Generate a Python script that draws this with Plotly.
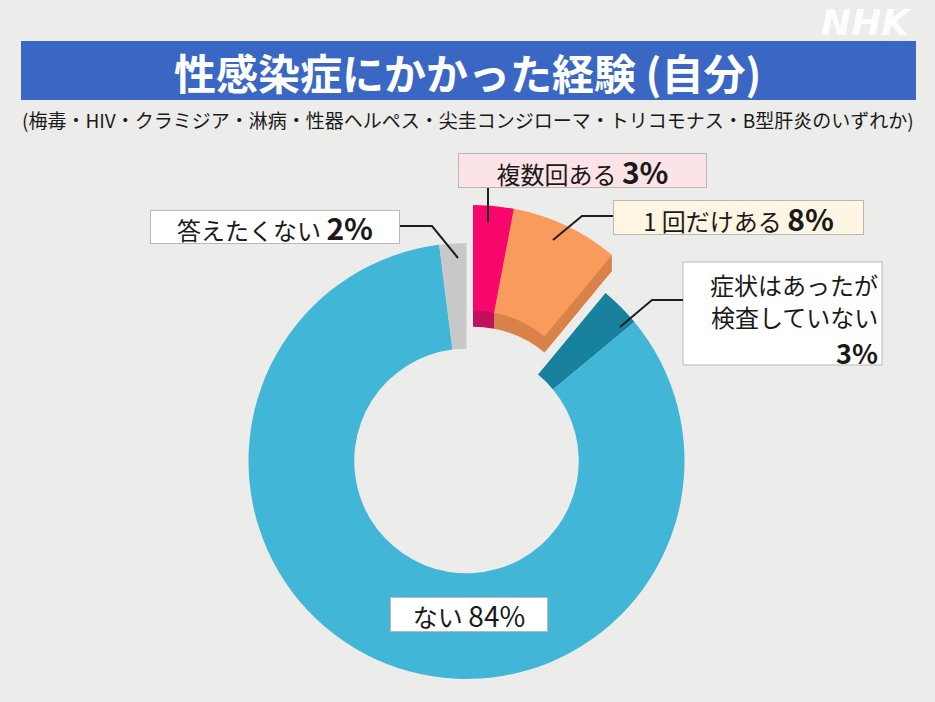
import plotly.graph_objects as go

W, H = 935, 702

# ---- data ----
labels = ["複数回ある", "1 回だけある", "症状はあったが検査していない", "ない", "答えたくない"]
values = [3, 8, 3, 84, 2]
colors = ["#F7066B", "#F89B5C", "#18819E", "#42B6D7", "#C8C8C8"]
depth_colors = ["#C2125C", "#D9834B", "#18819E", "#42B6D7", "#C8C8C8"]
raised = [True, True, False, False, False]

title_text = "性感染症にかかった経験 (自分)"
subtitle_text = "(梅毒・HIV・クラミジア・淋病・性器ヘルペス・尖圭コンジローマ・トリコモナス・B型肝炎のいずれか)"

# ---- geometry (pixels) ----
CX, CY, R = 466.5, 461.0, 218.0
HOLE = 0.515
LIFT_DX, LIFT_DY = 6.5, -38.0
DEPTH = 16.0
N_DEPTH = 24
FONT = "Noto Sans CJK JP"
TRANSPARENT = "rgba(0,0,0,0)"
BORDER = "#B8B8B8"


def dom(dx=0.0, dy=0.0):
    x0 = (CX - R + dx) / W
    x1 = (CX + R + dx) / W
    y0 = (H - (CY + R + dy)) / H
    y1 = (H - (CY - R + dy)) / H
    return dict(x=[x0, x1], y=[y0, y1])


def pie(cols, d):
    return go.Pie(
        labels=labels, values=values, sort=False, direction="clockwise",
        rotation=0, hole=HOLE, textinfo="none", hoverinfo="label+percent",
        marker=dict(colors=cols, line=dict(width=0)), domain=d, showlegend=False,
    )


fig = go.Figure()
# base ring (raised slices hidden)
fig.add_trace(pie([TRANSPARENT if r else c for r, c in zip(raised, colors)], dom()))
# extruded depth of raised slices
for k in range(N_DEPTH):
    off = DEPTH * (1 - k / N_DEPTH)
    fig.add_trace(pie([d if r else TRANSPARENT for r, d in zip(raised, depth_colors)],
                      dom(LIFT_DX, LIFT_DY + off)))
# top face of raised slices
fig.add_trace(pie([c if r else TRANSPARENT for r, c in zip(raised, colors)],
                  dom(LIFT_DX, LIFT_DY)))


def px(x):
    return x / W


def py(y):
    return 1 - y / H


shapes = [
    # title banner
    dict(type="rect", xref="paper", yref="paper", x0=px(21), x1=px(916), y0=py(100), y1=py(41),
         fillcolor="#3B67C4", line=dict(width=0), layer="below"),
    # multi-line label box
    dict(type="rect", xref="paper", yref="paper", x0=px(683), x1=px(882), y0=py(365), y1=py(262),
         fillcolor="#FFFFFF", line=dict(color=BORDER, width=1), layer="above"),
]

line_style = dict(color="#1E1E1E", width=2)
leader_paths = [
    [(488, 188), (488, 222)],
    [(613, 216), (582, 216), (553, 240)],
    [(400, 226), (432, 226), (458, 258)],
    [(683, 300), (652, 300), (620, 327)],
]
for pts in leader_paths:
    path = "M " + " L ".join(f"{px(x)} {py(y)}" for x, y in pts)
    shapes.append(dict(type="path", xref="paper", yref="paper", path=path, line=line_style))


def big(t, bold=True, size=30):
    s = f"<span style='font-size:{size}px'>{t}</span>"
    return f"<b>{s}</b>" if bold else s


boxes = [
    # text, cx, cy, w, h, bg, font size
    ("複数回ある " + big("3%"), 582.5, 170.5, 247, 33, "#FCE3E7", 24),
    ("1 回だけある " + big("8%"), 738.5, 217.5, 249, 33, "#FFF5E3", 24),
    ("答えたくない " + big("2%"), 275, 227, 248, 32, "#FFFFFF", 24),
    ("ない " + big("84%", bold=False, size=28), 469, 614.5, 156, 33, "#FFFFFF", 25),
]

annotations = [
    dict(text=f"<b>{title_text}</b>", x=px(468), y=py(71), xref="paper", yref="paper",
         showarrow=False, font=dict(family=FONT, size=42, color="white"), xanchor="center", yanchor="middle"),
    dict(text=subtitle_text, x=px(468), y=py(119), xref="paper", yref="paper",
         showarrow=False, font=dict(family=FONT, size=19, color="#1A1A1A"), xanchor="center", yanchor="middle"),
    dict(text="<b><i>NHK</i></b>", x=px(866), y=py(23), xref="paper", yref="paper",
         showarrow=False, font=dict(family="DejaVu Sans", size=36, color="rgba(255,255,255,0.92)"),
         xanchor="center", yanchor="middle"),
]
for t, cx, cy, w, h, bg, fs in boxes:
    annotations.append(dict(
        text=t, x=px(cx), y=py(cy), xref="paper", yref="paper", showarrow=False,
        xanchor="center", yanchor="middle", width=w, height=h, align="center", valign="middle",
        bgcolor=bg, bordercolor=BORDER, borderwidth=1, borderpad=0,
        font=dict(family=FONT, size=fs, color="#1A1A1A"),
    ))

# multi-line label, one annotation per line
multi_lines = [("症状はあったが", 284, 24, False), ("検査していない", 316, 24, False), ("3%", 352, 27, True)]
for t, y, fs, b in multi_lines:
    annotations.append(dict(
        text=f"<b>{t}</b>" if b else t, x=px(879), y=py(y), xref="paper", yref="paper",
        showarrow=False, xanchor="right", yanchor="middle", borderpad=0,
        font=dict(family=FONT, size=fs, color="#1A1A1A"),
    ))

fig.update_layout(
    width=W, height=H, margin=dict(l=0, r=0, t=0, b=0),
    paper_bgcolor="#ECECEA", plot_bgcolor="#ECECEA",
    shapes=shapes, annotations=annotations,
)

fig.write_html("out.html")
